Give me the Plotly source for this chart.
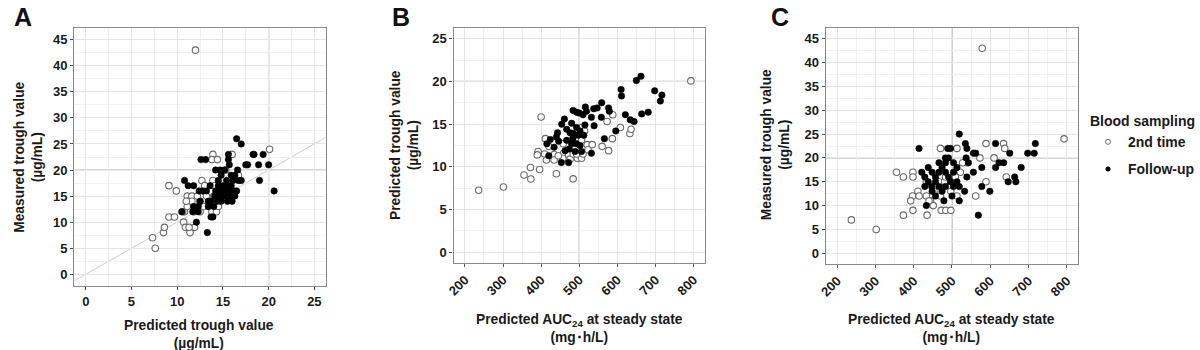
import plotly.graph_objects as go

# ---------------- Panel A: predicted trough (x) vs measured trough (y) ----------------
a_pred_2nd = [7.3, 7.6, 8.5, 8.6, 9.1, 9.7, 9.1, 9.9, 10.7, 10.9, 11.4, 11.9, 11.3, 10.8, 11.1, 11.6,
              11.1, 11.6, 11.1, 11.85, 12.5, 12.9, 12.5, 12.9, 12.7, 13.2, 13.6, 13.8, 14.3, 13.9, 13.8,
              14.4, 14.5, 14.5, 13.9, 16.7, 20.1, 15.3, 14.1, 12.0, 16.0, 10.6, 11.0, 12.2, 13.0, 14.0]
a_meas_2nd = [7, 5, 8, 9, 11, 11, 17, 16, 10, 9, 8, 9, 9, 12, 15, 15,
              14, 14, 13, 12, 12, 13, 14, 16, 18, 15, 13, 12, 12, 23, 22,
              22, 14, 13, 18, 19, 24, 20, 17, 43, 23, 12, 14, 15, 17, 15]

a_pred_fu = [16.5, 17.0, 12.6, 13.1, 15.6, 15.6, 15.7, 18.4, 19.4, 17.5, 17.7, 18.9, 20.0, 19.0, 20.6,
             10.8, 14.2, 14.7, 15.2, 14.8, 15.9, 16.3, 16.6, 16.1, 16.7, 15.4, 15.0, 15.5, 15.9, 11.2,
             11.8, 13.6, 14.5, 14.5, 14.2, 14.8, 15.2, 15.6, 16.2, 16.5, 14.1, 14.7, 15.2, 15.7, 16.3,
             14.4, 14.8, 15.5, 12.5, 12.3, 11.8, 13.4, 13.4, 16.0, 10.5, 13.7, 13.9, 12.1, 13.3, 12.8,
             13.2, 12.4, 11.7, 12.3, 13.7, 14.0, 17.0, 18.3]
a_meas_fu = [26, 25, 22, 22, 23, 22, 21, 23, 23, 21, 21, 21, 21, 18, 16,
             18, 20, 20, 20, 19, 19, 19, 20, 18, 18, 18, 17, 17, 17, 17,
             17, 17, 18, 17, 16, 16, 16, 16, 16, 16, 15, 15, 15, 15, 15,
             14, 14, 14, 14, 13, 13, 14, 13, 14, 12, 11, 11, 10, 8, 16,
             16, 16, 12, 12, 14, 13, 18, 23]

# ---------------- Panel B: predicted AUC24 (x) vs predicted trough (y) ----------------
b_auc_2nd = [236, 301, 355, 373, 372, 396, 400, 440, 484, 392, 390, 409, 414, 411, 434, 434,
             459, 457, 472, 476, 484, 495, 506, 493, 510, 506, 521, 534, 523, 560, 577, 587,
             573, 588, 608, 633, 636, 793, 484, 506, 471, 514, 458, 420, 445]
b_pred_2nd = [7.26, 7.64, 9.04, 8.58, 9.93, 9.70, 15.83, 9.2, 8.6, 11.8, 11.4, 11.5, 10.8, 13.3, 11.45, 10.8,
              11.6, 11.0, 11.45, 10.9, 11.5, 11.0, 11.0, 11.5, 11.5, 13.1, 12.6, 12.6, 12.0, 12.4, 11.9, 13.3,
              15.3, 16.1, 14.6, 13.9, 14.4, 20.06, 13.7, 14.6, 12.5, 14.2, 12.7, 12.4, 11.3]

b_auc_fu = [662, 650, 610, 611, 698, 717, 713, 681, 664, 621, 634, 644, 596, 566, 532,
            559, 547, 538, 577, 579, 558, 539, 516, 519, 510, 532, 484, 493, 500, 461,
            454, 480, 515, 467, 493, 502, 443, 476, 484, 497, 440, 512, 424, 446, 415,
            467, 480, 493, 434, 474, 489, 502, 506, 420, 453, 472, 463, 483]
b_pred_fu = [20.6, 20.1, 19.05, 18.3, 18.9, 18.4, 17.7, 16.4, 16.2, 16.1, 15.5, 15.3, 14.2, 13.3, 11.6,
             17.5, 16.9, 16.8, 16.9, 16.5, 15.8, 14.8, 17.0, 16.5, 16.1, 15.8, 16.6, 16.4, 16.3, 15.6,
             15.0, 15.1, 14.9, 14.4, 14.6, 14.2, 14.0, 14.0, 13.9, 13.7, 13.5, 13.7, 13.2, 13.0, 12.7,
             13.1, 12.7, 12.7, 12.3, 12.1, 11.8, 12.5, 11.8, 11.3, 10.5, 10.5, 11.9, 13.3]

# ---------------- Panel C: predicted AUC24 (x) vs measured trough (y) ----------------
c_auc_2nd = [237, 302, 355, 373, 373, 398, 398, 397, 392, 398, 411, 414, 435, 433, 444, 451,
             472, 484, 497, 470, 513, 589, 635, 638, 610, 793, 562, 589, 573, 642, 433, 466,
             481, 457, 466, 483, 497, 504, 513, 522, 539, 528, 509, 470, 453, 440, 579]
c_meas_2nd = [7, 5, 17, 16, 8, 17, 16, 12, 11, 9, 13, 12, 8, 12, 11, 10,
              9, 9, 9, 22, 22, 23, 23, 22, 20, 24, 12, 15, 20, 16, 15, 15,
              15, 14, 13, 16, 13, 15, 12, 17, 19, 19, 16, 12, 13, 11, 43]

c_auc_fu = [519, 414, 489, 496, 535, 539, 614, 718, 698, 715, 651, 556, 562, 483, 491, 466,
            483, 504, 537, 543, 556, 578, 614, 623, 635, 681, 664, 667, 647, 569, 599, 578,
            533, 519, 539, 519, 421, 429, 438, 448, 457, 466, 474, 483, 491, 504, 513, 438,
            447, 457, 466, 474, 483, 496, 504, 513, 429, 448, 457, 433, 479, 500]
c_meas_fu = [25, 22, 22, 22, 23, 22, 23, 23, 21, 21, 21, 21, 21, 20, 20, 19,
             19, 19, 20, 19, 17, 18, 18, 19, 19, 18, 16, 15, 15, 8, 13, 14,
             13, 11, 16, 14, 17, 16, 18, 17, 16, 17, 18, 17, 16, 17, 18, 15,
             14, 15, 14, 13, 14, 15, 14, 15, 14, 13, 12, 10, 11, 12]

GROUPS = ["2nd time", "Follow-up"]
REF_TROUGH = 20
REF_AUC = 500

FONT = "Liberation Sans, Arial, sans-serif"
W, H = 1200, 350

OPEN_STYLE = dict(symbol="circle", size=6.5, color="white", line=dict(color="#6a6a6a", width=1.1))
FILL_STYLE = dict(symbol="circle", size=6.5, color="black", line=dict(color="black", width=0.5))

fig = go.Figure()

panels = [
    ("x", "y", a_pred_2nd, a_meas_2nd, a_pred_fu, a_meas_fu),
    ("x2", "y2", b_auc_2nd, b_pred_2nd, b_auc_fu, b_pred_fu),
    ("x3", "y3", c_auc_2nd, c_meas_2nd, c_auc_fu, c_meas_fu),
]
for xa, ya, x1, y1, x2, y2 in panels:
    fig.add_trace(go.Scatter(x=x1, y=y1, mode="markers", name=GROUPS[0], marker=OPEN_STYLE,
                             xaxis=xa, yaxis=ya, showlegend=False, legendgroup="g1"))
    fig.add_trace(go.Scatter(x=x2, y=y2, mode="markers", name=GROUPS[1], marker=FILL_STYLE,
                             xaxis=xa, yaxis=ya, showlegend=False, legendgroup="g2"))

# legend-only entries (smaller key symbols, as in the reference legend)
fig.add_trace(go.Scatter(x=[None], y=[None], mode="markers", name=GROUPS[0], xaxis="x3", yaxis="y3",
                         marker=dict(symbol="circle", size=5, color="white", line=dict(color="#6a6a6a", width=1)),
                         legendgroup="g1", showlegend=True))
fig.add_trace(go.Scatter(x=[None], y=[None], mode="markers", name=GROUPS[1], xaxis="x3", yaxis="y3",
                         marker=dict(symbol="circle", size=5, color="black"),
                         legendgroup="g2", showlegend=True))


def px_x(p):
    return p / W


def px_y(p):
    return 1 - p / H


tickfont = dict(family=FONT, size=13, color="#1a1a1a", weight="bold")
common = dict(showline=True, linecolor="#8a8a8a", linewidth=1.3, mirror=True,
              ticks="outside", ticklen=3, tickcolor="#555555", tickwidth=1,
              showgrid=True, gridcolor="#e6e6e6", gridwidth=1, zeroline=False,
              tickfont=tickfont, fixedrange=True)
minor = dict(showgrid=True, gridcolor="#f1f1f1", gridwidth=0.6)

fig.update_layout(
    width=W, height=H, margin=dict(l=0, r=0, t=0, b=0),
    paper_bgcolor="white", plot_bgcolor="white",
    font=dict(family=FONT, color="#1a1a1a"),
    xaxis=dict(domain=[px_x(67), px_x(321)], range=[-1.25, 26.25], tick0=0, dtick=5,
               minor=dict(dtick=2.5, **minor), anchor="y", **common),
    yaxis=dict(domain=[px_y(286), px_y(28)], range=[-2.25, 47.25], tick0=0, dtick=5,
               minor=dict(dtick=2.5, **minor), anchor="x", **common),
    xaxis2=dict(domain=[px_x(450), px_x(704)], range=[170, 830], tick0=0, dtick=100, tickangle=-45,
                minor=dict(dtick=50, **minor), anchor="y2", **common),
    yaxis2=dict(domain=[px_y(263), px_y(28)], range=[-1.25, 26.25], tick0=0, dtick=5,
                minor=dict(dtick=2.5, **minor), anchor="x2", **common),
    xaxis3=dict(domain=[px_x(826), px_x(1081)], range=[170, 830], tick0=0, dtick=100, tickangle=-45,
                minor=dict(dtick=50, **minor), anchor="y3", **common),
    yaxis3=dict(domain=[px_y(264), px_y(28)], range=[-2.25, 47.25], tick0=0, dtick=5,
                minor=dict(dtick=2.5, **minor), anchor="x3", **common),
    legend=dict(x=px_x(1091), y=px_y(108), xanchor="left", yanchor="top",
                title=dict(text="<b>Blood sampling</b>", font=dict(family=FONT, size=14, color="#1a1a1a")),
                font=dict(family=FONT, size=14, color="#1a1a1a", weight="bold"),
                tracegroupgap=6, itemwidth=30, bgcolor="rgba(0,0,0,0)"),
)

# reference lines (drawn under the points)
ref_line = dict(color="#b5b5b5", width=1.3)
shapes = [
    dict(type="line", xref="x", yref="y domain", x0=REF_TROUGH, x1=REF_TROUGH, y0=0, y1=1, line=ref_line, layer="below"),
    dict(type="line", xref="x domain", yref="y", x0=0, x1=1, y0=REF_TROUGH, y1=REF_TROUGH, line=ref_line, layer="below"),
    dict(type="line", xref="x", yref="y", x0=-1.25, x1=26.25, y0=-1.25, y1=26.25,
         line=dict(color="#cfcfcf", width=1), layer="below"),
    dict(type="line", xref="x2", yref="y2 domain", x0=REF_AUC, x1=REF_AUC, y0=0, y1=1, line=ref_line, layer="below"),
    dict(type="line", xref="x2 domain", yref="y2", x0=0, x1=1, y0=REF_TROUGH, y1=REF_TROUGH, line=ref_line, layer="below"),
    dict(type="line", xref="x3", yref="y3 domain", x0=REF_AUC, x1=REF_AUC, y0=0, y1=1, line=ref_line, layer="below"),
    dict(type="line", xref="x3 domain", yref="y3", x0=0, x1=1, y0=REF_TROUGH, y1=REF_TROUGH, line=ref_line, layer="below"),
]
fig.update_layout(shapes=shapes)

title_font = dict(family=FONT, size=13.8, color="#1a1a1a")
letter_font = dict(family=FONT, size=25, color="#111111")


def ann(text, x, y, xanchor="center", yanchor="middle", angle=0, font=title_font):
    fig.add_annotation(text=text, xref="paper", yref="paper", x=px_x(x), y=px_y(y),
                       xanchor=xanchor, yanchor=yanchor, textangle=angle, showarrow=False,
                       font=font, align="center")


# panel letters
ann("<b>A</b>", 4, 1, "left", "top", font=letter_font)
ann("<b>B</b>", 386, 1, "left", "top", font=letter_font)
ann("<b>C</b>", 769, 1, "left", "top", font=letter_font)

# axis titles
ann("<b>Predicted trough value<br>(µg/mL)</b>", 193, 334)
ann("<b>Measured trough value<br>(µg/mL)</b>", 20, 157, angle=-90)
ann("<b>Predicted AUC<sub>24</sub> at steady state<br>(mg･h/L)</b>", 577, 328)
ann("<b>Predicted trough value<br>(µg/mL)</b>", 400, 145, angle=-90)
ann("<b>Predicted AUC<sub>24</sub> at steady state<br>(mg･h/L)</b>", 953, 328)
ann("<b>Measured trough value<br>(µg/mL)</b>", 775, 145, angle=-90)

fig.write_html("out.html")
